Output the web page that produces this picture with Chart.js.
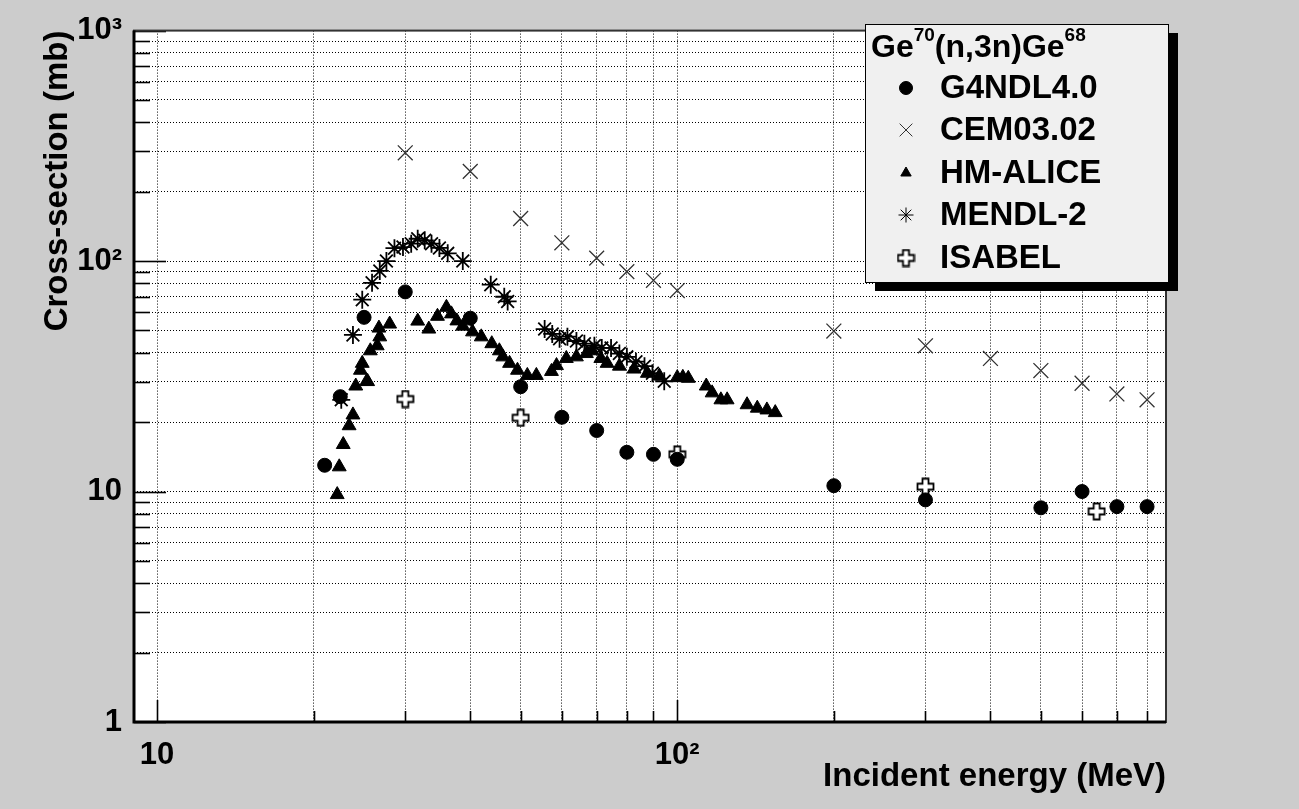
<!DOCTYPE html>
<html>
<head>
<meta charset="utf-8">
<script src="https://cdn.jsdelivr.net/npm/chart.js@4.4.1/dist/chart.umd.min.js"></script>
<style>
html, body { margin: 0; padding: 0; background: #cccccc; }
canvas { display: block; }
</style>
</head>
<body>
<canvas id="grafico" width="1299" height="809"></canvas>
<script>
// energia (MeV) e secao de choque (mb)
const g4ndlE = [21, 22.5, 25, 30, 40, 50, 60, 70, 80, 90, 100, 200, 300, 500, 600, 700, 800];
const g4ndlS = [13.0, 25.8, 57, 73.5, 56.5, 28.5, 21.0, 18.4, 14.8, 14.5, 13.8, 10.6, 9.2, 8.5, 10.0, 8.6, 8.6];

const cemE = [30, 40, 50, 60, 70, 80, 90, 100, 200, 300, 400, 500, 600, 700, 800];
const cemS = [295, 245, 153, 120, 103, 90, 82.5, 74.5, 49.7, 42.9, 37.8, 33.5, 29.5, 26.5, 25];

const aliceE = [22.2, 22.4, 22.8, 23.4, 23.8, 24.1, 24.6, 24.8, 25.3, 25.4, 25.7, 26.5, 26.8, 26.7, 28,
    31.7, 33.3, 34.6, 36, 36.8, 37.7, 38.7, 40.4, 42, 44, 45.5, 46.2, 47.6, 49.3, 51.5, 53.6,
    57.3, 58.6, 61.2, 64, 66.9, 68.6, 71.3, 73.3, 77.4, 82.6, 87.6, 92.4, 100, 102.5, 105,
    113.7, 116.7, 121.3, 124.7, 136.2, 142.5, 148.7, 154.3];
const aliceS = [9.7, 12.8, 16, 19.3, 21.5, 28.7, 33.6, 36, 30.1, 30, 40.8, 42.9, 46.9, 51.2, 53.3,
    54.9, 50.7, 57.6, 63, 59, 55, 52.2, 49.3, 46.9, 43.8, 40.8, 38.4, 36, 33.6, 31.9, 31.9,
    33.2, 35.2, 37.8, 38.4, 39.7, 40.8, 37.8, 36, 35, 34, 32.6, 31.7, 31.2, 31.3, 31,
    28.7, 26.8, 25, 25, 23.8, 23, 22.6, 22];

const mendlE = [22.6, 23.8, 24.8, 25.9, 26.8, 27.6, 28.6, 29.7, 30.8, 31.7, 32.7, 33.7, 34.9, 36.2, 38.7,
    43.8, 46.5, 47.2,
    55.6, 57.5, 59.4, 61.5, 64, 66.3, 69.3, 71.6, 74.6, 77.4, 80, 83.3, 86.5, 89.6, 94.4];
const mendlS = [25, 47.8, 68, 80.5, 90.6, 100, 113.7, 115, 119, 125, 123, 119, 114, 108, 100,
    79, 70, 66.8,
    50.7, 48.3, 46, 47, 45, 43.8, 42.9, 42, 42, 39.7, 38.4, 36.6, 35, 32.6, 30.1];

const isabelE = [30, 50, 100, 300, 640];
const isabelS = [25.2, 20.9, 14.5, 10.5, 8.2];

const xTicks = [10, 20, 30, 40, 50, 60, 70, 80, 90, 100, 200, 300, 400, 500, 600, 700, 800];
const xMajor = [10, 100];
const xLabels = ['10', '10²'];
const yTicks = [1, 2, 3, 4, 5, 6, 7, 8, 9, 10, 20, 30, 40, 50, 60, 70, 80, 90,
    100, 200, 300, 400, 500, 600, 700, 800, 900, 1000];
const yMajor = [1, 10, 100, 1000];
const yLabels = ['1', '10', '10²', '10³'];

const fonte = 'Liberation Sans, Arial, Helvetica, sans-serif';

// marcador "cruz aberta" do ISABEL
function cruzAberta() {
    const c = document.createElement('canvas');
    c.width = 19; c.height = 19;
    const g = c.getContext('2d');
    const m = 9.5, a = 3, l = 8;
    g.beginPath();
    g.moveTo(m - a, m - l); g.lineTo(m + a, m - l); g.lineTo(m + a, m - a);
    g.lineTo(m + l, m - a); g.lineTo(m + l, m + a); g.lineTo(m + a, m + a);
    g.lineTo(m + a, m + l); g.lineTo(m - a, m + l); g.lineTo(m - a, m + a);
    g.lineTo(m - l, m + a); g.lineTo(m - l, m - a); g.lineTo(m - a, m - a);
    g.closePath();
    g.fillStyle = '#fff';
    g.fill();
    g.lineWidth = 1.8;
    g.strokeStyle = '#000';
    g.stroke();
    return c;
}
const plusAberto = cruzAberta();

function pontos(xs, ys) {
    return xs.map((x, i) => ({ x: x, y: ys[i] }));
}

const fundo = {
    id: 'fundo',
    beforeDraw(chart) {
        const { ctx, chartArea: a } = chart;
        ctx.save();
        ctx.fillStyle = '#cccccc';
        ctx.fillRect(0, 0, chart.width, chart.height);
        ctx.fillStyle = '#ffffff';
        ctx.fillRect(a.left, a.top, a.right - a.left, a.bottom - a.top);
        ctx.restore();
    }
};

const moldura = {
    id: 'moldura',
    beforeDatasetsDraw(chart) {
        const { ctx, chartArea: a, scales } = chart;
        ctx.save();
        ctx.strokeStyle = '#000';
        ctx.lineWidth = 1.6;
        scales.x.ticks.forEach(t => {
            const px = Math.round(scales.x.getPixelForValue(t.value)) + 0.5;
            const len = xMajor.includes(t.value) ? 22 : 11;
            ctx.beginPath();
            ctx.moveTo(px, a.bottom);
            ctx.lineTo(px, a.bottom - len);
            ctx.stroke();
        });
        scales.y.ticks.forEach(t => {
            const py = Math.round(scales.y.getPixelForValue(t.value)) + 0.5;
            const len = yMajor.includes(t.value) ? 32 : 16;
            ctx.beginPath();
            ctx.moveTo(a.left, py);
            ctx.lineTo(a.left + len, py);
            ctx.stroke();
        });
        ctx.lineWidth = 2;
        ctx.strokeStyle = '#333';
        ctx.strokeRect(a.left, a.top, a.right - a.left, a.bottom - a.top);
        ctx.lineWidth = 3;
        ctx.strokeStyle = '#000';
        ctx.beginPath();
        ctx.moveTo(a.left, a.top);
        ctx.lineTo(a.left, a.bottom);
        ctx.lineTo(a.right, a.bottom);
        ctx.stroke();
        ctx.restore();
    }
};

const legenda = {
    id: 'legenda',
    afterDraw(chart) {
        const ctx = chart.ctx;
        const bx = 865, by = 24, bw = 303, bh = 258;
        ctx.save();
        ctx.fillStyle = '#000';
        ctx.fillRect(bx + 10, by + 9, bw, bh);
        ctx.fillStyle = '#f0f0f0';
        ctx.fillRect(bx, by, bw, bh);
        ctx.strokeStyle = '#000';
        ctx.lineWidth = 1;
        ctx.strokeRect(bx + 0.5, by + 0.5, bw, bh);

        // titulo com expoentes
        ctx.fillStyle = '#000';
        ctx.textBaseline = 'alphabetic';
        ctx.textAlign = 'left';
        let x = 871;
        const partes = [['Ge', 32, 57], ['70', 19, 41], ['(n,3n)Ge', 32, 57], ['68', 19, 41]];
        partes.forEach(p => {
            ctx.font = 'bold ' + p[1] + 'px ' + fonte;
            ctx.fillText(p[0], x, p[2]);
            x += ctx.measureText(p[0]).width;
        });

        const linhas = [88, 130, 173, 215, 258];
        ctx.font = 'bold 33px ' + fonte;
        ctx.textBaseline = 'middle';
        chart.data.datasets.forEach((ds, i) => {
            const y = linhas[i];
            ctx.fillStyle = ds.backgroundColor;
            ctx.strokeStyle = ds.borderColor;
            Chart.helpers.drawPoint(ctx, {
                pointStyle: ds.pointStyle,
                radius: ds.legendRadius,
                borderWidth: ds.borderWidth,
                rotation: 0
            }, 906, y);
            ctx.fillStyle = '#000';
            ctx.fillText(ds.label, 940, y + 1);
        });
        ctx.restore();
    }
};

const ctx = document.getElementById('grafico').getContext('2d');

new Chart(ctx, {
    type: 'scatter',
    data: {
        datasets: [
            {
                label: 'G4NDL4.0',
                data: pontos(g4ndlE, g4ndlS),
                pointStyle: 'circle',
                pointRadius: 7,
                legendRadius: 6.5,
                backgroundColor: '#000',
                borderColor: '#000',
                borderWidth: 1
            },
            {
                label: 'CEM03.02',
                data: pontos(cemE, cemS),
                pointStyle: 'crossRot',
                pointRadius: 10.5,
                legendRadius: 9,
                backgroundColor: '#333',
                borderColor: '#333',
                borderWidth: 1.3
            },
            {
                label: 'HM-ALICE',
                data: pontos(aliceE, aliceS),
                pointStyle: 'triangle',
                pointRadius: 8,
                legendRadius: 6,
                backgroundColor: '#000',
                borderColor: '#000',
                borderWidth: 1
            },
            {
                label: 'MENDL-2',
                data: pontos(mendlE, mendlS),
                pointStyle: 'star',
                pointRadius: 9,
                legendRadius: 7.5,
                backgroundColor: '#000',
                borderColor: '#000',
                borderWidth: 1.8
            },
            {
                label: 'ISABEL',
                data: pontos(isabelE, isabelS),
                pointStyle: plusAberto,
                pointRadius: 8,
                legendRadius: 8,
                backgroundColor: '#fff',
                borderColor: '#000',
                borderWidth: 1.5
            }
        ]
    },
    options: {
        responsive: false,
        animation: false,
        events: [],
        layout: { padding: { top: 22, right: 133, left: 0, bottom: 0 } },
        plugins: {
            legend: { display: false },
            tooltip: { enabled: false }
        },
        scales: {
            x: {
                type: 'logarithmic',
                min: 9.03,
                max: 870,
                afterBuildTicks: s => { s.ticks = xTicks.map(v => ({ value: v })); },
                afterFit: s => { s.height = 87; },
                grid: { color: '#000', lineWidth: 1, drawTicks: false },
                border: { display: false, dash: [1, 2] },
                ticks: {
                    autoSkip: false,
                    maxRotation: 0,
                    padding: 15,
                    color: '#000',
                    font: { family: fonte, size: 31, weight: 'bold' },
                    callback: v => {
                        const i = xMajor.indexOf(v);
                        return i >= 0 ? xLabels[i] : '';
                    }
                },
                title: {
                    display: true,
                    text: 'Incident energy (MeV)',
                    align: 'end',
                    color: '#000',
                    font: { family: fonte, size: 33, weight: 'bold' },
                    padding: { top: 0, bottom: 12 }
                }
            },
            y: {
                type: 'logarithmic',
                min: 1,
                max: 1000,
                afterBuildTicks: s => { s.ticks = yTicks.map(v => ({ value: v })); },
                afterFit: s => { s.width = 134; },
                grid: { color: '#000', lineWidth: 1, drawTicks: false },
                border: { display: false, dash: [1, 2] },
                ticks: {
                    autoSkip: false,
                    padding: 12,
                    color: '#000',
                    font: { family: fonte, size: 31, weight: 'bold' },
                    callback: v => {
                        const i = yMajor.indexOf(v);
                        return i >= 0 ? yLabels[i] : '';
                    }
                },
                title: {
                    display: true,
                    text: 'Cross-section (mb)',
                    align: 'end',
                    color: '#000',
                    font: { family: fonte, size: 33, weight: 'bold' },
                    padding: { top: 38, bottom: 0 }
                }
            }
        }
    },
    plugins: [fundo, moldura, legenda]
});
</script>
</body>
</html>
